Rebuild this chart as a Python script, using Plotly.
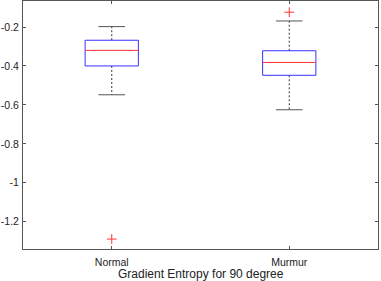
import plotly.graph_objects as go

categories = ["Normal", "Murmur"]
q1 = [-0.400, -0.448]
median = [-0.320, -0.382]
q3 = [-0.268, -0.322]
lower_whisker = [-0.548, -0.625]
upper_whisker = [-0.198, -0.169]
outliers = [[-1.289], [-0.124]]
ytick_vals = [-1.2, -1.0, -0.8, -0.6, -0.4, -0.2]
ytick_text = ["-1.2", "-1", "-0.8", "-0.6", "-0.4", "-0.2"]
xlabel = "Gradient Entropy for 90 degree"

box_half = 0.15
cap_half = 0.075

fig = go.Figure()
for i, cat in enumerate(categories):
    x = i + 1
    # whiskers (dashed)
    fig.add_trace(go.Scatter(x=[x, x, None, x, x],
                             y=[q3[i], upper_whisker[i], None, q1[i], lower_whisker[i]],
                             mode="lines", line=dict(color="#333", width=1, dash="2px,2px"),
                             hoverinfo="skip", showlegend=False))
    # caps
    fig.add_trace(go.Scatter(x=[x - cap_half, x + cap_half, None, x - cap_half, x + cap_half],
                             y=[upper_whisker[i], upper_whisker[i], None, lower_whisker[i], lower_whisker[i]],
                             mode="lines", line=dict(color="#555", width=1),
                             hoverinfo="skip", showlegend=False))
    # box
    fig.add_trace(go.Scatter(x=[x - box_half, x + box_half, x + box_half, x - box_half, x - box_half],
                             y=[q1[i], q1[i], q3[i], q3[i], q1[i]],
                             mode="lines", line=dict(color="#3333ff", width=1),
                             hoverinfo="skip", showlegend=False))
    # median
    fig.add_trace(go.Scatter(x=[x - box_half, x + box_half], y=[median[i], median[i]],
                             mode="lines", line=dict(color="#ff3333", width=1),
                             hoverinfo="skip", showlegend=False))
    # outliers
    fig.add_trace(go.Scatter(x=[x] * len(outliers[i]), y=outliers[i], mode="markers",
                             marker=dict(symbol="cross-thin", size=7,
                                         line=dict(color="#ff3333", width=1)),
                             hoverinfo="skip", showlegend=False))

axis_common = dict(showline=True, linecolor="#555", linewidth=1, mirror="ticks",
                   ticks="inside", ticklen=3, tickcolor="#555", showgrid=False, zeroline=False,
                   automargin=False,
                   tickfont=dict(family="Liberation Sans, Arial", size=10.5, color="#222"))

plot_h = 281 - 1 - 32

fig.update_layout(
    width=381, height=281,
    margin=dict(l=23, r=3, t=1, b=32),
    plot_bgcolor="white", paper_bgcolor="white",
    xaxis=dict(range=[0.5, 2.5], tickvals=[1, 2], ticktext=categories,
               ticklabelstandoff=3, **axis_common),
    yaxis=dict(range=[-1.340, -0.0665], tickvals=ytick_vals, ticktext=ytick_text,
               ticklabelstandoff=1, **axis_common),
    annotations=[dict(text=xlabel, xref="paper", yref="paper", x=0.5, y=-25 / plot_h,
                      xanchor="center", yanchor="middle", showarrow=False,
                      font=dict(family="Liberation Sans, Arial", size=12, color="#222"))],
)

fig.write_html("out.html", config={"displayModeBar": False},
               post_script="document.body.style.margin='0';document.body.style.overflow='hidden';")
